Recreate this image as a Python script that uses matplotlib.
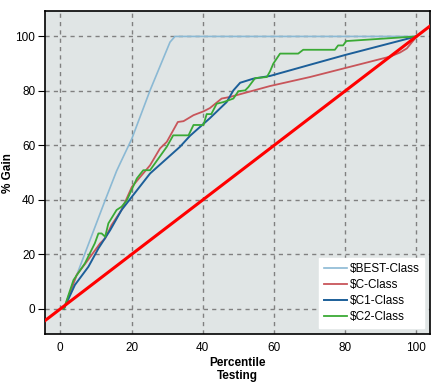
import matplotlib
matplotlib.use("Agg")
import matplotlib.pyplot as plt

plt.rcParams['font.family'] = ['Liberation Sans', 'DejaVu Sans']

# gain curves (percentile, % gain)
best_x = [1, 12.6, 15.8, 16.8, 20.1, 25.2, 30.8, 32.2, 100]
best_y = [0, 39.9, 50.6, 53.4, 62.5, 80.2, 97.9, 100, 100]

c_x = [1, 4.6, 7.4, 11.2, 12.6, 14.4, 17.2, 20.1, 25.2, 28, 29.9, 33, 34.6,
       37.4, 40.2, 42, 45.3, 47.7, 58.9, 70.1, 92.6, 95.4, 97.3, 99.2, 100]
c_y = [0, 12.5, 17.3, 24.1, 25.9, 30.8, 36.3, 44.8, 52.7, 58.9, 61.3, 68.6, 68.9,
       71.1, 72.5, 73.7, 77.2, 77.8, 81.8, 85.1, 92.6, 94.1, 95.6, 98.6, 100]

c1_x = [1, 4.1, 7.9, 10.7, 14, 17.2, 25.2, 33.6, 36.4, 42, 46.7, 48.6, 50.5,
        54.2, 58.9, 70.1, 80, 100]
c1_y = [0, 8.8, 15.5, 22.2, 28.9, 36.3, 49.7, 59.5, 63.5, 70, 75.9, 80.2, 83,
        84.5, 85.5, 89.6, 93.2, 100]

c2_x = [1, 3.7, 6.9, 9.7, 10.7, 11.6, 12.6, 13.5, 15.8, 17.2, 18.7, 21.5, 23.3,
        25.2, 29.9, 31.7, 36, 37.4, 40.2, 41.1, 42.4, 43.9, 45.8, 48.6, 50, 51.9,
        52.8, 54.7, 58, 58.9, 59.8, 61.7, 66.8, 68.2, 77.1, 78, 79.4, 80.3, 100]
c2_y = [0, 10.6, 16.7, 24.1, 27.7, 27.7, 26.5, 31.4, 36.3, 37.5, 39.9, 47.9, 50.9,
        50.9, 59.5, 63.7, 63.7, 67.5, 67.5, 71.5, 71.5, 75.3, 75.9, 77.2, 79.9, 80.2,
        81.4, 84.7, 85.1, 87.2, 90, 93.7, 93.7, 95.1, 95.1, 96.7, 96.7, 98.3, 100]

fig = plt.figure(figsize=(4.38, 3.85), dpi=100)
ax = fig.add_axes([0.1027, 0.1325, 0.879, 0.838])
ax.set_facecolor('#e0e5e5')

ax.plot(best_x, best_y, color='#8bb9d4', lw=1.2, label='$BEST-Class')
ax.plot(c_x, c_y, color='#c8555a', lw=1.3, label='$C-Class')
ax.plot(c1_x, c1_y, color='#1c5f99', lw=1.4, label='$C1-Class')
ax.plot(c2_x, c2_y, color='#3aaa35', lw=1.3, label='$C2-Class')
ax.axline((0, 0), (100, 100), color='#ff0000', lw=2.2, zorder=5)

ax.set_xlim(-4.3, 103.8)
ax.set_ylim(-9.2, 109.2)
ax.set_xticks([0, 20, 40, 60, 80, 100])
ax.set_yticks([0, 20, 40, 60, 80, 100])
ax.grid(True, color='#808080', ls=(0, (3, 3)), lw=1)
ax.set_axisbelow(True)
ax.tick_params(axis='x', length=0, pad=6, labelsize=8.5)
ax.tick_params(axis='y', length=5, pad=2, labelsize=8.5)
for s in ax.spines.values():
    s.set_linewidth(1.2)

ax.set_ylabel('% Gain', fontweight='bold', fontsize=8.5, labelpad=1)
ax.set_xlabel('Percentile\nTesting', fontweight='bold', fontsize=8.5, labelpad=2,
              linespacing=1.15)

leg = ax.legend(loc='lower right', fontsize=8.5, frameon=True, fancybox=False,
                framealpha=1, edgecolor='white', handlelength=1.95,
                handletextpad=0.25, labelspacing=0.35, borderaxespad=0.5,
                borderpad=0.4)

fig.savefig('out.png', dpi=100)
